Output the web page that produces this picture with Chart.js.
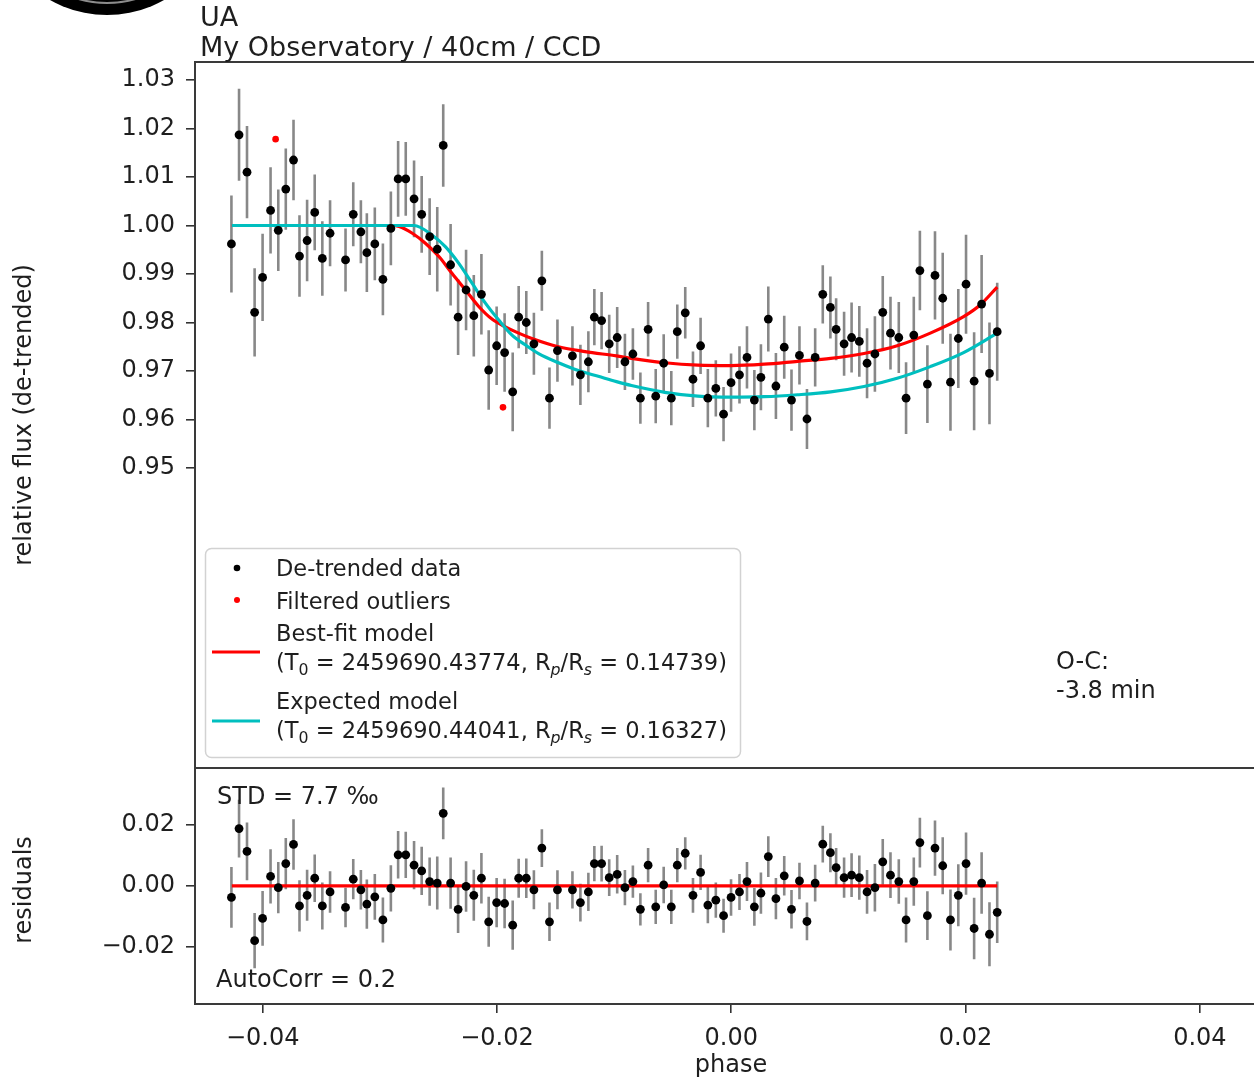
<!DOCTYPE html>
<html>
<head>
<meta charset="utf-8">
<title>Transit light curve</title>
<script src="https://cdn.jsdelivr.net/npm/chart.js@4.4.1/dist/chart.umd.min.js"></script>
<style>
  html, body { margin: 0; padding: 0; background: #fff; overflow: hidden; }
  #wrap { position: relative; width: 1254px; height: 1078px; overflow: hidden; }
  #wrap canvas { position: absolute; left: 0; top: 0; }
</style>
</head>
<body>
<div id="wrap">
  <canvas id="fluxChart" width="1320" height="1078"></canvas>
  <canvas id="residChart" width="1320" height="1078"></canvas>
</div>
<script>
// observation phases
const phase = [
  -0.04267, -0.04202, -0.04134, -0.04069, -0.04001, -0.03933, -0.03867, -0.03803, -0.03737, -0.03686,
  -0.03621, -0.03556, -0.03491, -0.03425, -0.03293, -0.03227, -0.03162, -0.03111, -0.03043, -0.02974,
  -0.02906, -0.02844, -0.02779, -0.02708, -0.02643, -0.02575, -0.02510, -0.02459, -0.02396, -0.02332,
  -0.02264, -0.02198, -0.02133, -0.02071, -0.02003, -0.01935, -0.01866, -0.01815, -0.01750, -0.01685,
  -0.01617, -0.01552, -0.01484, -0.01356, -0.01288, -0.01220, -0.01169, -0.01107, -0.01042, -0.00974,
  -0.00908, -0.00840, -0.00776, -0.00710, -0.00645, -0.00577, -0.00512, -0.00461, -0.00393, -0.00327,
  -0.00262, -0.00200, -0.00132, -0.00066, -0.00002, 0.00070, 0.00134, 0.00197, 0.00253, 0.00316,
  0.00381, 0.00452, 0.00514, 0.00582, 0.00646, 0.00716, 0.00781, 0.00846, 0.00895, 0.00963,
  0.01027, 0.01093, 0.01159, 0.01226, 0.01293, 0.01359, 0.01430, 0.01492, 0.01558, 0.01610,
  0.01674, 0.01739, 0.01805, 0.01871, 0.01938, 0.02004, 0.02073, 0.02137, 0.02204, 0.02270
];

// de-trended relative flux
const flux = [
  0.9962, 1.0187, 1.0110, 0.9821, 0.9893, 1.0031, 0.9990, 1.0075, 1.0135, 0.9937,
  0.9969, 1.0027, 0.9932, 0.9984, 0.9929, 1.0023, 0.9987, 0.9944, 0.9962, 0.9889,
  0.9994, 1.0096, 1.0096, 1.0055, 1.0023, 0.9977, 0.9951, 1.0165, 0.9919, 0.9811,
  0.9867, 0.9814, 0.9858, 0.9702, 0.9752, 0.9738, 0.9657, 0.9811, 0.9800, 0.9756,
  0.9886, 0.9644, 0.9742, 0.9731, 0.9692, 0.9719, 0.9811, 0.9804, 0.9756, 0.9769,
  0.9719, 0.9735, 0.9644, 0.9786, 0.9648, 0.9716, 0.9644, 0.9781, 0.9820, 0.9683,
  0.9752, 0.9644, 0.9664, 0.9611, 0.9676, 0.9692, 0.9728, 0.9640, 0.9687, 0.9807,
  0.9669, 0.9749, 0.9640, 0.9732, 0.9601, 0.9728, 0.9858, 0.9831, 0.9786, 0.9756,
  0.9769, 0.9761, 0.9716, 0.9735, 0.9821, 0.9778, 0.9769, 0.9644, 0.9774, 0.9907,
  0.9673, 0.9897, 0.9850, 0.9677, 0.9767, 0.9879, 0.9679, 0.9838, 0.9695, 0.9781
];

// 1-sigma flux errors (same for residuals)
const fluxErr = [
  0.0100, 0.0095, 0.0095, 0.0091, 0.0090, 0.0089, 0.0084, 0.0084, 0.0083, 0.0084,
  0.0084, 0.0078, 0.0077, 0.0068, 0.0065, 0.0066, 0.0065, 0.0081, 0.0075, 0.0074,
  0.0076, 0.0078, 0.0076, 0.0079, 0.0079, 0.0079, 0.0087, 0.0085, 0.0084, 0.0078,
  0.0083, 0.0084, 0.0083, 0.0082, 0.0081, 0.0081, 0.0081, 0.0064, 0.0065, 0.0064,
  0.0062, 0.0063, 0.0064, 0.0061, 0.0062, 0.0063, 0.0058, 0.0059, 0.0060, 0.0063,
  0.0058, 0.0053, 0.0053, 0.0056, 0.0056, 0.0060, 0.0056, 0.0056, 0.0053, 0.0057,
  0.0058, 0.0060, 0.0058, 0.0056, 0.0060, 0.0059, 0.0064, 0.0062, 0.0068, 0.0067,
  0.0068, 0.0065, 0.0063, 0.0060, 0.0062, 0.0060, 0.0060, 0.0064, 0.0064, 0.0066,
  0.0072, 0.0073, 0.0072, 0.0078, 0.0075, 0.0075, 0.0073, 0.0074, 0.0079, 0.0082,
  0.0080, 0.0091, 0.0094, 0.0100, 0.0102, 0.0102, 0.0101, 0.0101, 0.0105, 0.0101
];

// data minus best-fit model
const resid = [
  -0.0038, 0.0188, 0.0113, -0.0180, -0.0107, 0.0031, -0.0006, 0.0073, 0.0136, -0.0066,
  -0.0031, 0.0025, -0.0066, -0.0020, -0.0071, 0.0022, -0.0013, -0.0060, -0.0036, -0.0112,
  -0.0008, 0.0102, 0.0102, 0.0068, 0.0049, 0.0014, 0.0009, 0.0238, 0.0009, -0.0077,
  -0.0002, -0.0031, 0.0025, -0.0118, -0.0055, -0.0058, -0.0129, 0.0025, 0.0025, -0.0013,
  0.0124, -0.0118, -0.0013, -0.0013, -0.0055, -0.0020, 0.0073, 0.0073, 0.0027, 0.0038,
  -0.0006, 0.0014, -0.0077, 0.0068, -0.0069, 0.0003, -0.0069, 0.0068, 0.0107, -0.0031,
  0.0044, -0.0063, -0.0047, -0.0098, -0.0038, -0.0020, 0.0014, -0.0069, -0.0024, 0.0096,
  -0.0042, 0.0033, -0.0077, 0.0016, -0.0117, 0.0009, 0.0137, 0.0109, 0.0060, 0.0027,
  0.0035, 0.0027, -0.0020, -0.0006, 0.0079, 0.0035, 0.0014, -0.0112, 0.0014, 0.0142,
  -0.0098, 0.0124, 0.0066, -0.0112, -0.0031, 0.0073, -0.0140, 0.0009, -0.0159, -0.0087
];

// sigma-clipped points
const outlierPhase = [-0.03890, -0.01949];
const outlierFlux = [1.0178, 0.9625];

// best-fit transit model
const bestFitPhase = [
  -0.04264, -0.02904, -0.02836, -0.02723, -0.02609, -0.02496, -0.02383, -0.02269, -0.02156, -0.02043,
  -0.01929, -0.01815, -0.01702, -0.01475, -0.01248, -0.00980, -0.00852, -0.00568, -0.00285, 0.00000,
  0.00282, 0.00565, 0.00849, 0.01133, 0.01416, 0.01699, 0.01983, 0.02124, 0.02270
];
const bestFitFlux = [
  1.0000, 1.0000, 0.9998, 0.9984, 0.9963, 0.9936, 0.9901, 0.9867, 0.9833, 0.9807,
  0.9791, 0.9778, 0.9767, 0.9750, 0.9740, 0.9731, 0.9726, 0.9717, 0.9712, 0.9711,
  0.9714, 0.9720, 0.9726, 0.9736, 0.9752, 0.9778, 0.9812, 0.9836, 0.9873
];

// expected (ephemeris) model
const expectedPhase = [
  -0.04264, -0.02708, -0.02553, -0.02439, -0.02326, -0.02213, -0.02099, -0.01985, -0.01872, -0.01759,
  -0.01645, -0.01475, -0.01305, -0.01135, -0.00980, -0.00852, -0.00568, -0.00285, 0.00000, 0.00282,
  0.00565, 0.00849, 0.01133, 0.01416, 0.01699, 0.01983, 0.02270
];
const expectedFlux = [
  1.0000, 1.0000, 0.9980, 0.9956, 0.9922, 0.9881, 0.9840, 0.9805, 0.9774, 0.9754,
  0.9736, 0.9717, 0.9701, 0.9689, 0.9678, 0.9670, 0.9656, 0.9648, 0.9646, 0.9647,
  0.9651, 0.9657, 0.9668, 0.9685, 0.9709, 0.9738, 0.9778
];

// residual reference line
const zeroLinePhase = [-0.04264, 0.02270];
const zeroLineValue = [0, 0];

const fluxTicks = [0.95, 0.96, 0.97, 0.98, 0.99, 1.00, 1.01, 1.02, 1.03];
const fluxTickLabels = ['0.95', '0.96', '0.97', '0.98', '0.99', '1.00', '1.01', '1.02', '1.03'];
const residTicks = [-0.02, 0.00, 0.02];
const residTickLabels = ['\u22120.02', '0.00', '0.02'];
const phaseTicks = [-0.04, -0.02, 0.00, 0.02, 0.04];
const phaseTickLabels = ['\u22120.04', '\u22120.02', '0.00', '0.02', '0.04'];

const FONT = '"DejaVu Sans", sans-serif';
const INK = '#1e1e1e';
const RED = '#ff0000';
const CYAN = '#00bfbf';

const xy = (xs, ys) => xs.map((v, i) => ({ x: v, y: ys[i] }));

function fixedAxis(values, labels, extra) {
  return Object.assign({
    afterBuildTicks: (axis) => { axis.ticks = values.map(v => ({ value: v })); },
    ticks: {
      callback: (v, i) => labels[i],
      font: { family: FONT, size: 24 },
      color: INK,
      padding: 11,
      autoSkip: false,
      maxRotation: 0
    },
    grid: { drawOnChartArea: false, drawTicks: true, tickLength: 9, color: '#333', lineWidth: 1.6 },
    border: { display: false }
  }, extra);
}

function errorBars(id, xs, ys, errs) {
  return {
    id: id,
    beforeDatasetsDraw(chart) {
      const { ctx, chartArea: a } = chart;
      const x = chart.scales.x, y = chart.scales.y;
      ctx.save();
      ctx.beginPath();
      ctx.rect(a.left, a.top, a.right - a.left, a.bottom - a.top);
      ctx.clip();
      ctx.strokeStyle = 'rgba(90,90,90,0.72)';
      ctx.lineWidth = 2.6;
      ctx.beginPath();
      xs.forEach((p, i) => {
        const px = x.getPixelForValue(p);
        ctx.moveTo(px, y.getPixelForValue(ys[i] + errs[i]));
        ctx.lineTo(px, y.getPixelForValue(ys[i] - errs[i]));
      });
      ctx.stroke();
      ctx.restore();
    }
  };
}

const frame = {
  id: 'frame',
  afterDatasetsDraw(chart) {
    const { ctx, chartArea: a } = chart;
    ctx.save();
    ctx.strokeStyle = '#3a3a3a';
    ctx.lineWidth = 2;
    ctx.strokeRect(a.left, a.top, a.right - a.left, a.bottom - a.top);
    ctx.restore();
  }
};

// text with subscript runs, e.g. T_0, R_p/R_s
function richText(ctx, parts, x, y, size) {
  let cx = x;
  parts.forEach(p => {
    const s = p.sub ? size * 0.7 : size;
    ctx.font = (p.it ? 'italic ' : '') + s + 'px ' + FONT;
    ctx.fillText(p.t, cx, p.sub ? y + size * 0.22 : y);
    cx += ctx.measureText(p.t).width;
  });
}

function vertLabel(ctx, text, x, y) {
  ctx.save();
  ctx.translate(x, y);
  ctx.rotate(-Math.PI / 2);
  ctx.textAlign = 'center';
  ctx.textBaseline = 'middle';
  ctx.font = '24px ' + FONT;
  ctx.fillStyle = INK;
  ctx.fillText(text, 0, 0);
  ctx.restore();
}

const fluxDecor = {
  id: 'fluxDecor',
  afterDraw(chart) {
    const ctx = chart.ctx;
    ctx.save();

    // observatory badge, top left
    ctx.fillStyle = '#000';
    ctx.beginPath();
    ctx.arc(107, -101, 116, 0, Math.PI * 2);
    ctx.fill();
    ctx.strokeStyle = 'rgba(255,255,255,0.55)';
    ctx.lineWidth = 2;
    ctx.beginPath();
    ctx.arc(107, -101, 104, 0.25 * Math.PI, 0.75 * Math.PI);
    ctx.stroke();

    ctx.fillStyle = INK;
    ctx.textBaseline = 'alphabetic';
    ctx.textAlign = 'left';
    ctx.font = '27px ' + FONT;
    ctx.fillText('UA', 200, 26);
    ctx.fillText('My Observatory / 40cm / CCD', 200, 56);

    vertLabel(ctx, 'relative flux (de-trended)', 25, 415);

    ctx.font = '24px ' + FONT;
    ctx.fillStyle = INK;
    ctx.fillText('O-C:', 1056, 669);
    ctx.fillText('-3.8 min', 1056, 698);

    // legend
    ctx.fillStyle = 'rgba(255,255,255,0.8)';
    ctx.strokeStyle = '#d2d2d2';
    ctx.lineWidth = 1.5;
    ctx.beginPath();
    ctx.roundRect(205.5, 548.5, 535, 209, 6);
    ctx.fill();
    ctx.stroke();

    ctx.fillStyle = '#000';
    ctx.beginPath(); ctx.arc(237, 568, 3.3, 0, Math.PI * 2); ctx.fill();
    ctx.fillStyle = RED;
    ctx.beginPath(); ctx.arc(237, 600, 3, 0, Math.PI * 2); ctx.fill();
    ctx.lineWidth = 3.2;
    ctx.strokeStyle = RED;
    ctx.beginPath(); ctx.moveTo(212, 652); ctx.lineTo(260, 652); ctx.stroke();
    ctx.strokeStyle = CYAN;
    ctx.beginPath(); ctx.moveTo(212, 721); ctx.lineTo(260, 721); ctx.stroke();

    const ls = 22.5;
    ctx.fillStyle = INK;
    ctx.font = ls + 'px ' + FONT;
    ctx.fillText('De-trended data', 276, 576);
    ctx.fillText('Filtered outliers', 276, 609);
    ctx.fillText('Best-fit model', 276, 641);
    richText(ctx, [
      { t: '(T' }, { t: '0', sub: true }, { t: ' = 2459690.43774, R' }, { t: 'p', sub: true, it: true },
      { t: '/R' }, { t: 's', sub: true, it: true }, { t: ' = 0.14739)' }
    ], 276, 670, ls);
    ctx.font = ls + 'px ' + FONT;
    ctx.fillText('Expected model', 276, 709);
    richText(ctx, [
      { t: '(T' }, { t: '0', sub: true }, { t: ' = 2459690.44041, R' }, { t: 'p', sub: true, it: true },
      { t: '/R' }, { t: 's', sub: true, it: true }, { t: ' = 0.16327)' }
    ], 276, 738, ls);

    ctx.restore();
  }
};

const residDecor = {
  id: 'residDecor',
  afterDraw(chart) {
    const ctx = chart.ctx;
    ctx.save();
    vertLabel(ctx, 'residuals', 25, 890);
    ctx.fillStyle = INK;
    ctx.textAlign = 'left';
    ctx.textBaseline = 'alphabetic';
    ctx.font = '24px ' + FONT;
    ctx.fillText('STD = 7.7 \u2030', 217, 804);
    ctx.fillText('AutoCorr = 0.2', 216, 987);
    ctx.textAlign = 'center';
    ctx.fillText('phase', 731, 1072);
    ctx.restore();
  }
};

const phaseMin = -0.04578;
const phaseMax = 0.04988;

const fluxChart = new Chart(document.getElementById('fluxChart'), {
  type: 'scatter',
  data: {
    datasets: [
      {
        label: 'De-trended data',
        data: xy(phase, flux),
        pointRadius: 4.4,
        pointBackgroundColor: '#000',
        pointBorderWidth: 0,
        order: 0
      },
      {
        label: 'Filtered outliers',
        data: xy(outlierPhase, outlierFlux),
        pointRadius: 3.3,
        pointBackgroundColor: RED,
        pointBorderWidth: 0,
        order: 0
      },
      {
        label: 'Expected model',
        data: xy(expectedPhase, expectedFlux),
        showLine: true,
        borderColor: CYAN,
        borderWidth: 3.2,
        pointRadius: 0,
        cubicInterpolationMode: 'monotone',
        order: 1
      },
      {
        label: 'Best-fit model',
        data: xy(bestFitPhase, bestFitFlux),
        showLine: true,
        borderColor: RED,
        borderWidth: 3.2,
        pointRadius: 0,
        cubicInterpolationMode: 'monotone',
        order: 2
      }
    ]
  },
  options: {
    responsive: false,
    animation: false,
    events: [],
    layout: { padding: { top: 62, bottom: 310, left: 0, right: 0 } },
    plugins: { legend: { display: false }, tooltip: { enabled: false } },
    scales: {
      x: { type: 'linear', display: false, min: phaseMin, max: phaseMax },
      y: fixedAxis(fluxTicks, fluxTickLabels, {
        type: 'linear', min: 0.88814, max: 1.03371,
        afterFit: (s) => { s.width = 195; }
      })
    }
  },
  plugins: [errorBars('fluxErrors', phase, flux, fluxErr), frame, fluxDecor]
});

const residChart = new Chart(document.getElementById('residChart'), {
  type: 'scatter',
  data: {
    datasets: [
      {
        label: 'Residuals',
        data: xy(phase, resid),
        pointRadius: 4.4,
        pointBackgroundColor: '#000',
        pointBorderWidth: 0,
        order: 0
      },
      {
        label: 'Zero',
        data: xy(zeroLinePhase, zeroLineValue),
        showLine: true,
        borderColor: RED,
        borderWidth: 3.2,
        pointRadius: 0,
        order: 1
      }
    ]
  },
  options: {
    responsive: false,
    animation: false,
    events: [],
    layout: { padding: { top: 768, bottom: 0, left: 0, right: 0 } },
    plugins: { legend: { display: false }, tooltip: { enabled: false } },
    scales: {
      x: fixedAxis(phaseTicks, phaseTickLabels, {
        type: 'linear', min: phaseMin, max: phaseMax,
        afterFit: (s) => { s.height = 74; }
      }),
      y: fixedAxis(residTicks, residTickLabels, {
        type: 'linear', min: -0.0388, max: 0.0387,
        afterFit: (s) => { s.width = 195; }
      })
    }
  },
  plugins: [errorBars('residErrors', phase, resid, fluxErr), frame, residDecor]
});
</script>
</body>
</html>
